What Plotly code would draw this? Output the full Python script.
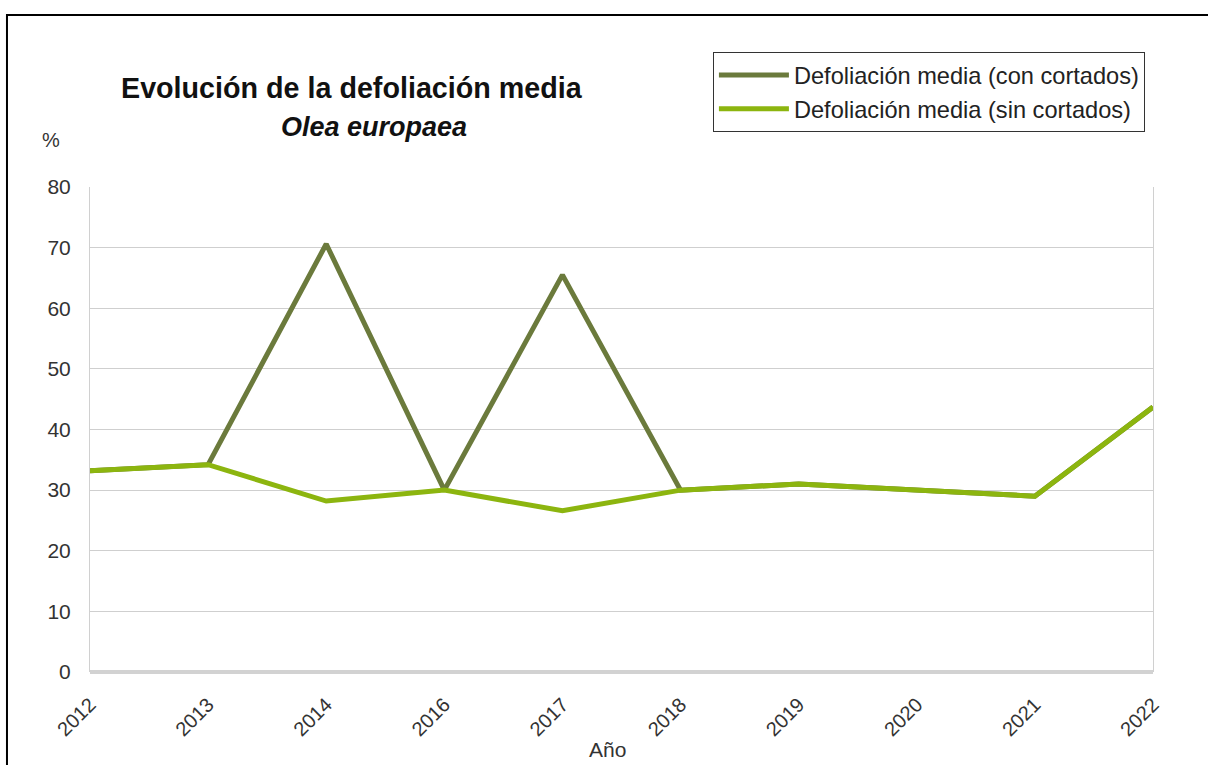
import plotly.graph_objects as go

# Años de muestreo (2015 sin dato) y defoliación media en %
years = ["2012", "2013", "2014", "2016", "2017", "2018", "2019", "2020", "2021", "2022"]
defol_con_cortados = [33.2, 34.2, 70.6, 30.0, 65.5, 30.0, 31.0, 29.9, 29.0, 43.7]
defol_sin_cortados = [33.2, 34.2, 28.2, 30.0, 26.6, 30.0, 31.0, 29.9, 29.0, 43.7]
y_ticks = [0, 10, 20, 30, 40, 50, 60, 70, 80]

FONT = "Liberation Sans, Arial, sans-serif"

fig = go.Figure()
fig.add_trace(go.Scatter(
    x=years, y=defol_con_cortados, mode="lines",
    name="Defoliación media (con cortados)",
    line=dict(color="#6b7a3c", width=5),
))
fig.add_trace(go.Scatter(
    x=years, y=defol_sin_cortados, mode="lines",
    name="Defoliación media (sin cortados)",
    line=dict(color="#8cb50f", width=5),
))

fig.update_layout(
    width=1208, height=765,
    margin=dict(l=90, r=55, t=187, b=93),
    paper_bgcolor="white", plot_bgcolor="white",
    font=dict(family=FONT, size=20, color="#333333"),
    showlegend=True,
    legend=dict(
        x=0.586, y=1.278, xanchor="left", yanchor="top",
        bgcolor="white", bordercolor="#333333", borderwidth=1,
        font=dict(family=FONT, size=23.6, color="#222222"),
        itemwidth=70,
    ),
    xaxis=dict(
        type="category", range=[0, len(years) - 1],
        tickangle=-45, showgrid=False, zeroline=False,
        showline=False, ticks="", ticklabelstandoff=16,
        tickfont=dict(family=FONT, size=20, color="#333333"),
    ),
    yaxis=dict(
        range=[0, 80], tickvals=y_ticks,
        showgrid=True, gridcolor="#cfcfcf", gridwidth=1,
        zeroline=True, zerolinecolor="#d2d2d2", zerolinewidth=4,
        showline=True, mirror=True, linecolor="#d0d0d0", linewidth=1,
        ticks="", ticklabelstandoff=14,
        tickfont=dict(family=FONT, size=21, color="#333333"),
    ),
)

# Marco exterior del gráfico
fig.add_shape(
    type="rect", xref="paper", yref="paper",
    x0=-0.0781, y0=-0.4, x1=1.2, y1=1.3546,
    line=dict(color="black", width=2), fillcolor="rgba(0,0,0,0)",
    layer="above",
)

# Títulos y rótulos de ejes
fig.add_annotation(
    text="<b>Evolución de la defoliación media</b>",
    xref="paper", yref="paper", x=0.2465, y=1.204,
    xanchor="center", yanchor="middle",
    showarrow=False, font=dict(family=FONT, size=28.7, color="#111111"),
)
fig.add_annotation(
    text="<b><i>Olea europaea</i></b>",
    xref="paper", yref="paper", x=0.267, y=1.1237,
    xanchor="center", yanchor="middle",
    showarrow=False, font=dict(family=FONT, size=27, color="#111111"),
)
fig.add_annotation(
    text="%", xref="paper", yref="paper", x=-0.0367, y=1.097,
    xanchor="center", yanchor="middle",
    showarrow=False, font=dict(family=FONT, size=20, color="#333333"),
)
fig.add_annotation(
    text="Año", xref="paper", yref="paper", x=0.487, y=-0.16,
    xanchor="center", yanchor="middle",
    showarrow=False, font=dict(family=FONT, size=21, color="#333333"),
)

fig.write_html("out.html")
